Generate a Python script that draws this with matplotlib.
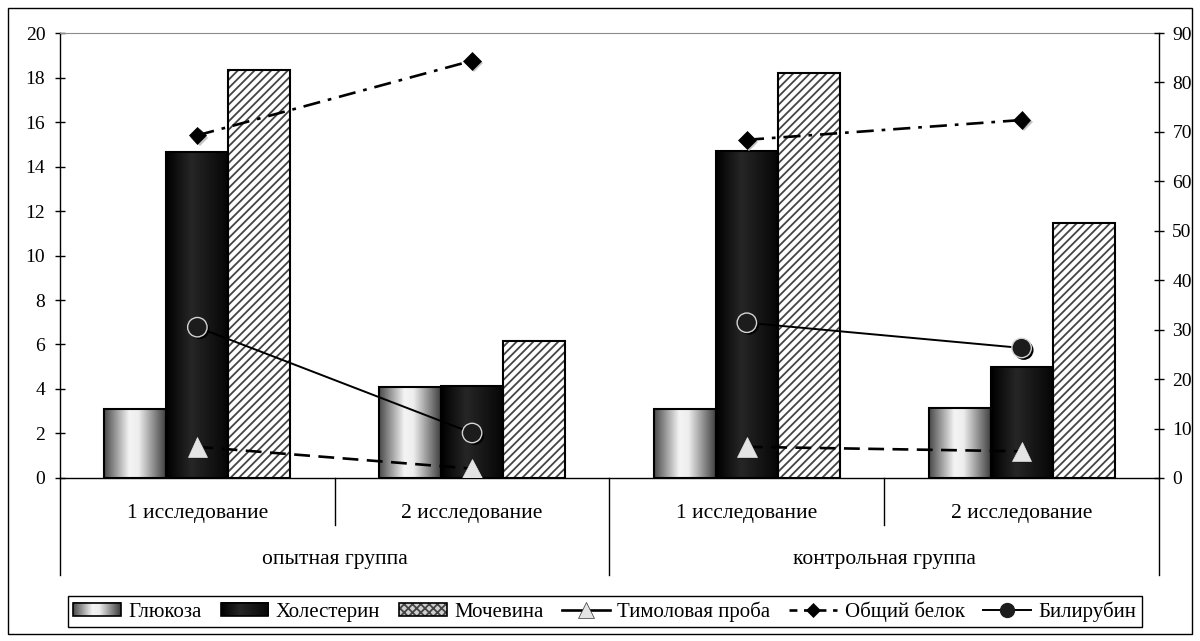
import numpy as np
import matplotlib
matplotlib.use("Agg")
import matplotlib.pyplot as plt
import matplotlib.patheffects as pe
from matplotlib.colors import LinearSegmentedColormap
from matplotlib.patches import Rectangle, Patch
from matplotlib.lines import Line2D
from matplotlib.legend_handler import HandlerBase
from matplotlib.image import BboxImage
from matplotlib.transforms import Bbox, TransformedBbox

plt.rcParams["font.family"] = ["Liberation Serif", "DejaVu Serif"]
plt.rcParams["hatch.color"] = "#444444"
plt.rcParams["hatch.linewidth"] = 1.3

# ---- data -------------------------------------------------------------
studies = ["1 исследование", "2 исследование", "1 исследование", "2 исследование"]
groups = ["опытная группа", "контрольная группа"]

# left axis (bars)
glucose = [3.1, 4.1, 3.1, 3.15]
cholesterol = [14.65, 4.15, 14.7, 5.0]
urea = [18.35, 6.15, 18.2, 11.45]

# right axis (lines)
thymol = [6.3, 1.9, 6.3, 5.4]
protein = [69.3, 84.4, 68.4, 72.4]
bilirubin = [30.5, 9.1, 31.4, 26.3]

left_ticks = list(range(0, 21, 2))
right_ticks = list(range(0, 91, 10))

FS_TICK = 14
FS_CAT = 15.5
FS_LEG = 15

# ---- figure -----------------------------------------------------------
fig = plt.figure(figsize=(12, 6.41), dpi=100)
fig.patches.append(Rectangle((0.0067, 0.011), 0.9866, 0.9765, transform=fig.transFigure,
                             fill=False, edgecolor="black", linewidth=1.0))

ax = fig.add_axes([0.05, 0.2543, 0.9158, 0.6942])
ax2 = ax.twinx()

x = np.arange(len(studies))
w = 0.2257

cm_glu = LinearSegmentedColormap.from_list(
    "glu", [(0, "#4a4a4a"), (0.4, "#f4f4f4"), (0.55, "#eeeeee"), (1, "#3a3a3a")])
cm_chol = LinearSegmentedColormap.from_list(
    "chol", [(0, "#000000"), (0.4, "#262626"), (1, "#050505")])
grad = np.linspace(0, 1, 128)[None, :]


def gradient_bars(xs, heights, cmap):
    bars = ax.bar(xs, heights, w, facecolor="none", edgecolor="black",
                  linewidth=1.5, zorder=3)
    for r in bars:
        x0 = r.get_x()
        ax.imshow(grad, extent=(x0, x0 + w, 0, r.get_height()), cmap=cmap,
                  aspect="auto", interpolation="bicubic", zorder=2)
    return bars


gradient_bars(x - w, glucose, cm_glu)
gradient_bars(x, cholesterol, cm_chol)
ax.bar(x + w, urea, w, facecolor="white", hatch="////", linewidth=0, zorder=2)
ax.bar(x + w, urea, w, facecolor="none", edgecolor="black", linewidth=1.5, zorder=3)

# ---- lines on the right axis (connected within each group only) ------
thymol_ls = dict(color="black", lw=1.9, dashes=(6, 3.2))
protein_ls = dict(color="black", lw=1.9, dashes=(6.5, 3.0, 1.4, 3.0))
bili_ls = dict(color="black", lw=1.4)

for g in range(len(groups)):
    sl = slice(2 * g, 2 * g + 2)
    ax2.plot(x[sl], thymol[sl], zorder=3, **thymol_ls)
    ax2.plot(x[sl], protein[sl], zorder=3, **protein_ls)
    ax2.plot(x[sl], bilirubin[sl], zorder=3, **bili_ls)


def shadow(col):
    return [pe.SimplePatchShadow(offset=(1.6, -1.6), shadow_rgbFace=col, alpha=1), pe.Normal()]


tri_m = dict(marker="^", ms=14, mfc="#e4e4e4", mec="#e4e4e4", mew=0.5)
dia_m = dict(marker="D", ms=9, mfc="black", mec="black", mew=0.5)
cir_m = dict(marker="o", ms=14, mfc="#1c1c1c", mec="#d4d4d4", mew=1.0)

ax2.plot(x, thymol, ls="none", zorder=4, path_effects=shadow("#1a1a1a"), **tri_m)
ax2.plot(x, protein, ls="none", zorder=4, path_effects=shadow("#c4c4c4"), **dia_m)
ax2.plot(x, bilirubin, ls="none", zorder=4, path_effects=shadow("#000000"), **cir_m)

# ---- axes styling ----------------------------------------------------
ax.set_xlim(-0.5, len(studies) - 0.5)
ax.set_ylim(0, 20)
ax.set_yticks(left_ticks)
ax2.set_ylim(0, 90)
ax2.set_yticks(right_ticks)
ax.set_xticks([])
ax2.set_xticks([])

ax.tick_params(axis="y", direction="inout", length=7.2, width=1, labelsize=FS_TICK, pad=7)
ax2.tick_params(axis="y", direction="inout", length=7.2, width=1, labelsize=FS_TICK, pad=6)

for s in ("left", "bottom"):
    ax.spines[s].set_linewidth(1.0)
ax.spines["right"].set_visible(False)
ax.spines["top"].set_color("#8c8c8c")
ax.spines["top"].set_linewidth(0.8)
for s in ("left", "bottom", "top"):
    ax2.spines[s].set_visible(False)
ax2.spines["right"].set_linewidth(1.0)

# category dividers and labels under the axis
trans = ax.get_xaxis_transform()
for xb, y1 in [(-0.5, -0.218), (0.5, -0.106), (1.5, -0.218), (2.5, -0.106), (3.5, -0.218)]:
    ax.add_line(Line2D([xb, xb], [0, y1], transform=trans, color="black", lw=1.0,
                       clip_on=False))
for xi, lab in zip(x, studies):
    ax.text(xi, -0.079, lab, transform=trans, ha="center", va="center", fontsize=FS_CAT)
for gi, lab in enumerate(groups):
    ax.text(0.5 + 2 * gi, -0.184, lab, transform=trans, ha="center", va="center",
            fontsize=FS_CAT)


# ---- legend ----------------------------------------------------------
class GradientHandler(HandlerBase):
    def __init__(self, cmap):
        super().__init__()
        self.cmap = cmap

    def legend_artist(self, legend, orig_handle, fontsize, handlebox):
        x0, y0 = -handlebox.xdescent, -handlebox.ydescent
        ww, hh = handlebox.width, handlebox.height
        bb = TransformedBbox(Bbox.from_bounds(x0, y0, ww, hh), handlebox.get_transform())
        img = BboxImage(bb, cmap=self.cmap, interpolation="bicubic")
        img.set_data(grad)
        frame = Rectangle((x0, y0), ww, hh, facecolor="none", edgecolor="black",
                          linewidth=1.2)
        handlebox.add_artist(img)
        handlebox.add_artist(frame)
        return frame


class HatchHandler(HandlerBase):
    def legend_artist(self, legend, orig_handle, fontsize, handlebox):
        x0, y0 = -handlebox.xdescent, -handlebox.ydescent
        ww, hh = handlebox.width, handlebox.height
        fill = Rectangle((x0, y0), ww, hh, facecolor="#cfcfcf", hatch="xxxx", linewidth=0)
        frame = Rectangle((x0, y0), ww, hh, facecolor="none", edgecolor="black",
                          linewidth=1.2)
        handlebox.add_artist(fill)
        handlebox.add_artist(frame)
        return frame


h_glu = Patch(label="Глюкоза")
h_chol = Patch(label="Холестерин")
h_urea = Patch(label="Мочевина")
h_thy = Line2D([], [], label="Тимоловая проба", color="black", lw=1.9,
               **{**tri_m, "ms": 11, "mec": "#333333"})
h_pro = Line2D([], [], label="Общий белок", color="black", lw=1.9, dashes=(3, 2.5),
               **{**dia_m, "ms": 7})
h_bil = Line2D([], [], label="Билирубин", **bili_ls, **{**cir_m, "ms": 10, "mec": "#1c1c1c"})

leg = fig.legend(handles=[h_glu, h_chol, h_urea, h_thy, h_pro, h_bil],
                 handler_map={h_glu: GradientHandler(cm_glu),
                              h_chol: GradientHandler(cm_chol),
                              h_urea: HatchHandler()},
                 loc="center", bbox_to_anchor=(0.504, 0.046), ncol=6, frameon=True,
                 fancybox=False, edgecolor="black", framealpha=1, fontsize=FS_LEG,
                 handlelength=2.3, handleheight=0.6, handletextpad=0.35,
                 columnspacing=0.9, borderpad=0.25)
leg.get_frame().set_linewidth(1.0)

fig.savefig("out.png", dpi=100)
